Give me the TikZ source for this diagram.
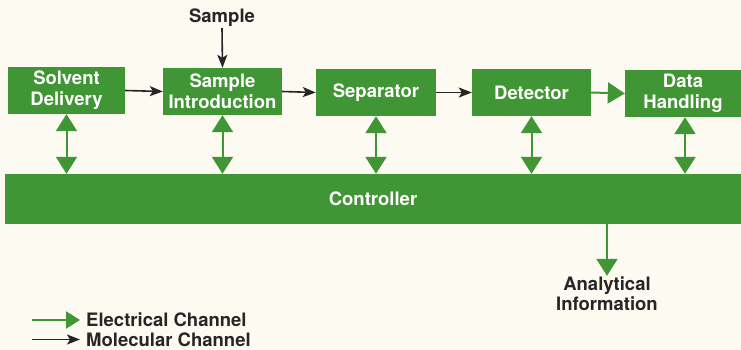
\documentclass[tikz,border=0pt]{standalone}
\usepackage{fontspec}
\setmainfont{TeX Gyre Heros}
\usetikzlibrary{arrows.meta,positioning}
\definecolor{hpgreen}{RGB}{64,150,52}
\definecolor{paper}{RGB}{252,250,241}

\tikzset{
  block/.style={fill=hpgreen, text=white, align=center, inner sep=0pt,
    font=\bfseries\fontsize{18.5}{21}\selectfont},
  label/.style={align=center, inner sep=1pt, text=black!85,
    font=\bfseries\fontsize{18.5}{20}\selectfont},
  elec/.style={draw=hpgreen, line width=2pt, -{Triangle[width=21pt,length=17pt]}},
  elecboth/.style={draw=hpgreen, line width=2pt,
    {Triangle[width=21pt,length=17pt]}-{Triangle[width=21pt,length=17pt]}},
  mol/.style={draw=black!85, line width=1.6pt, -{Stealth[length=13pt,width=10pt,inset=3pt]}},
}

\begin{document}
\begin{tikzpicture}[x=1pt,y=1pt,yscale=-1,xscale=1]
% background
\fill[paper] (0,0) rectangle (741,350);
\useasboundingbox (0,0) rectangle (741,350);

% Blocks
\node[block, minimum width=117, minimum height=47] (solvent) at (66.5,90.5) {Solvent\\Delivery};
\node[block, minimum width=119, minimum height=47] (sampleintro) at (222.5,91.5) {Sample\\Introduction};
\node[block, minimum width=120, minimum height=47] (separator) at (376,92.5) {Separator};
\node[block, minimum width=119, minimum height=47] (detector) at (531.5,92.5) {Detector};
\node[block, minimum width=116, minimum height=47] (datahand) at (683,93.5) {Data\\Handling};
\node[block, minimum width=736, minimum height=50] (ctrl) at (373,199) {Controller};

% Text nodes
\node[label] (samplelbl) at (222,18) {Sample};
\node[label] (analytic) at (607,294) {Analytical\\Information};

% Molecular channel
\draw[mol] (samplelbl.south) -- (sampleintro.north);
\draw[mol] (solvent.east) -- (sampleintro.west);
\draw[mol] (sampleintro.east) -- (separator.west);
\draw[mol] (separator.east) -- (detector.west);

% Electrical channel
\draw[elec] (detector.east) -- (datahand.west);
\draw[elecboth] (solvent.south) -- (solvent.south |- ctrl.north);
\draw[elecboth] (sampleintro.south) -- (sampleintro.south |- ctrl.north);
\draw[elecboth] (separator.south) -- (separator.south |- ctrl.north);
\draw[elecboth] (detector.south) -- (detector.south |- ctrl.north);
\draw[elecboth] ([xshift=2pt]datahand.south) -- ([xshift=2pt]datahand.south |- ctrl.north);
\draw[elec] (analytic.north |- ctrl.south) -- (analytic.north);

% Legend
\node[label, anchor=west] (elecleg) at (85,320) {Electrical Channel};
\node[label, anchor=west] (molleg) at (85,339.5) {Molecular Channel};
\coordinate (elecstart) at (32,320);
\coordinate (molstart) at (32,339.5);
\draw[draw=hpgreen, line width=2pt, shorten >=5pt, -{Triangle[width=17pt,length=14pt]}] (elecstart) -- (elecleg.west);
\draw[mol, shorten >=5pt] (molstart) -- (molleg.west);

\end{tikzpicture}
\end{document}
